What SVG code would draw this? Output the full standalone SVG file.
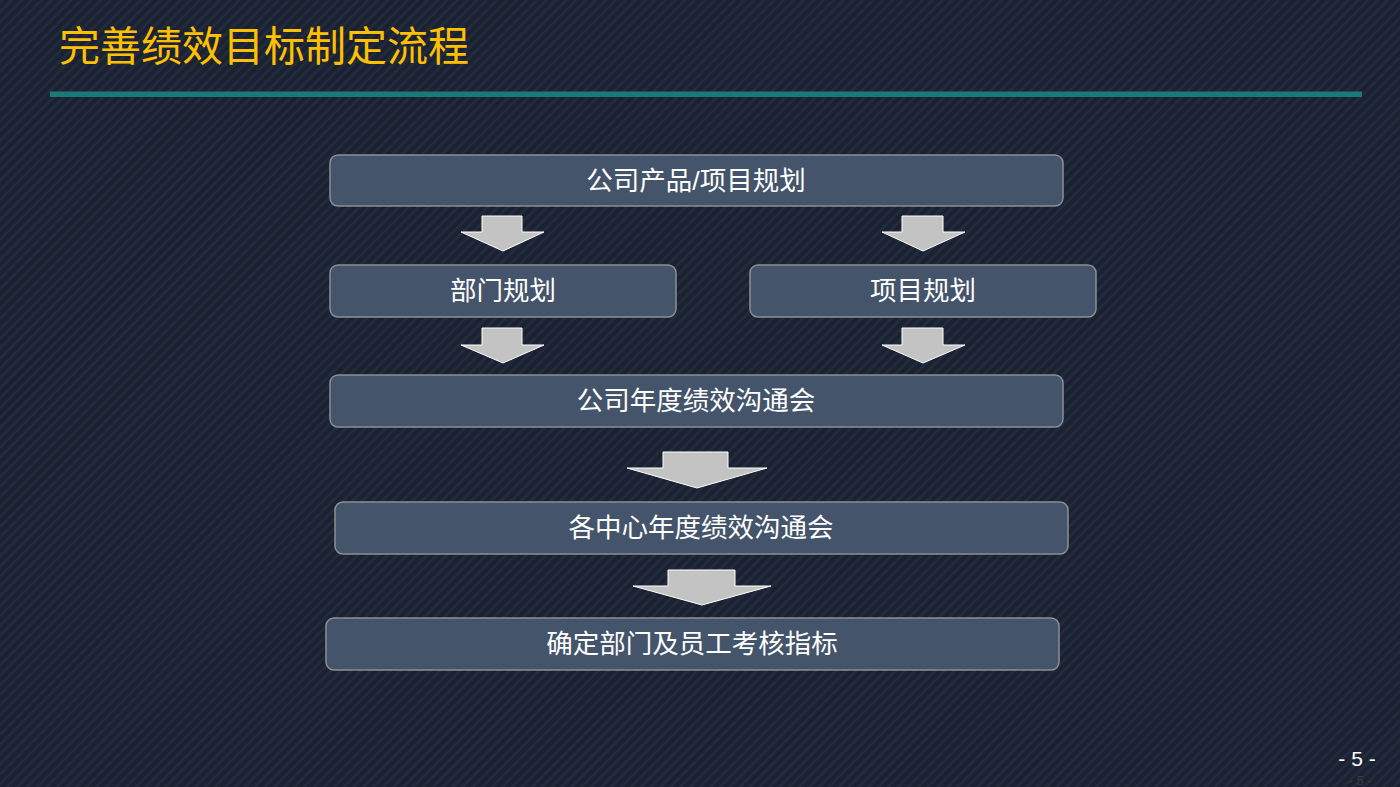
<svg xmlns="http://www.w3.org/2000/svg" width="1400" height="787" viewBox="0 0 1400 787">
<defs>
<pattern id="stripes" width="7" height="7" patternUnits="userSpaceOnUse" patternTransform="rotate(-45)">
<rect width="7" height="7" fill="#1a2131"/>
<rect width="7" height="3" fill="#222b3c"/>
</pattern>
<style>
.box{fill:#44546a;stroke:#8c8f94;stroke-width:1.5}
.lbl{font-family:"Liberation Sans","Noto Sans CJK SC",sans-serif;font-size:26.5px;fill:#ffffff;text-anchor:middle;dominant-baseline:central}
.arr{fill:#c3c3c3;stroke:#ffffff;stroke-width:1}
</style>
</defs>
<rect width="1400" height="787" fill="url(#stripes)"/>
<text x="59" y="61" font-family="Liberation Sans, Noto Sans CJK SC, sans-serif" font-size="41" fill="#ffc000">完善绩效目标制定流程</text>
<rect x="50" y="91.5" width="1312" height="5.5" fill="#1a7a78"/>

<g id="connectors">
<polygon class="arr" points="482,216 522,216 522,232 544,232 503,251 461,232 482,232"/>
<polygon class="arr" points="902,216 943,216 943,232 965,232 923,251 882,232 902,232"/>
<polygon class="arr" points="482,328 522,328 522,345 544,345 503,363 461,345 482,345"/>
<polygon class="arr" points="902,328 943,328 943,345 965,345 923,363 882,345 902,345"/>
<polygon class="arr" points="663,452 728,452 728,468 767,468 697,488 627,468 663,468"/>
<polygon class="arr" points="668,570 735,570 735,586 771,586 702,605 633,586 668,586"/>
</g>

<g id="n1"><rect class="box" x="330" y="155" width="733" height="51" rx="8"/><text class="lbl" x="696" y="181">公司产品/项目规划</text></g>
<g id="n2"><rect class="box" x="330" y="265" width="346" height="52" rx="8"/><text class="lbl" x="503" y="291">部门规划</text></g>
<g id="n3"><rect class="box" x="750" y="265" width="346" height="52" rx="8"/><text class="lbl" x="923" y="291">项目规划</text></g>
<g id="n4"><rect class="box" x="330" y="375" width="733" height="52" rx="8"/><text class="lbl" x="696" y="401">公司年度绩效沟通会</text></g>
<g id="n5"><rect class="box" x="335" y="502" width="733" height="52" rx="8"/><text class="lbl" x="701" y="528">各中心年度绩效沟通会</text></g>
<g id="n6"><rect class="box" x="326" y="618" width="733" height="52" rx="8"/><text class="lbl" x="692" y="644">确定部门及员工考核指标</text></g>

<text x="1360" y="785" font-family="Liberation Sans, sans-serif" font-size="13" fill="#5a4a3a" text-anchor="middle" opacity="0.6">- 5 -</text>
<text x="1357" y="766" font-family="Liberation Sans, sans-serif" font-size="21" fill="#ffffff" text-anchor="middle">- 5 -</text>
</svg>
